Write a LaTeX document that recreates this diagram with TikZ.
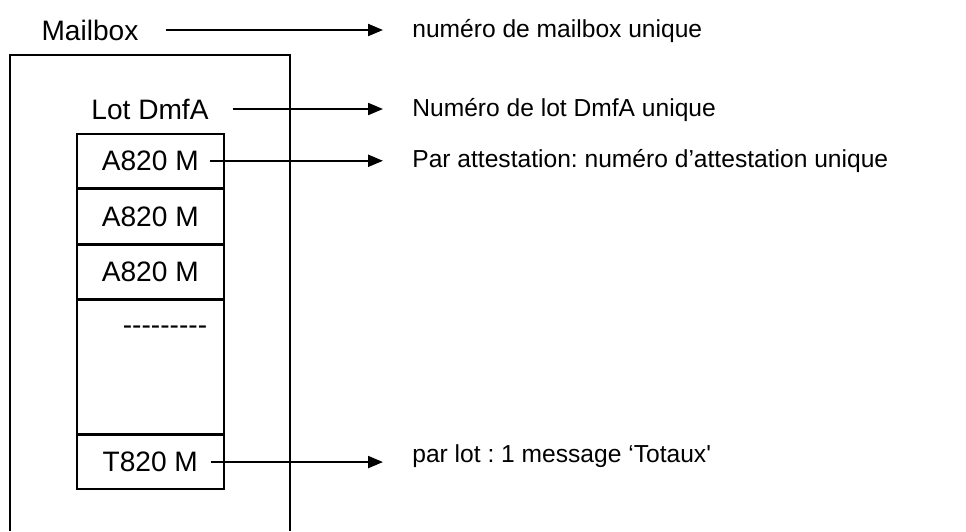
\documentclass[tikz,border=0pt]{standalone}
\usepackage{fontspec}
\setmainfont{Liberation Sans}
\usetikzlibrary{positioning,arrows.meta}

\begin{document}
\frenchspacing
\begin{tikzpicture}[
			x=0.02cm, y=-0.02cm,
			nodefont/.style={font=\fontsize{16}{16}\selectfont},
			rowbox/.style={draw, line width=0.9pt, minimum width=2.94cm, minimum height=1.08cm, inner sep=0pt, nodefont},
			pointer/.style={line width=1.2pt, -{Triangle[length=0.3cm, width=0.24cm]}},
			desc/.style={font=\fontsize{14}{14}\selectfont, anchor=base west, inner sep=0pt}
		]
		\useasboundingbox (0, 0) rectangle (966, 531);

		% grand cadre de la mailbox, ouvert en bas
		\draw[line width=1.1pt] (10, 531) -- (10, 55) -- (290, 55) -- (290, 531);

		% titres
		\node[nodefont] (mailbox) at (90, 30) {Mailbox};
		\node[nodefont] (lot) at (150, 109) {Lot DmfA};

		% pile des messages
		\node[rowbox, anchor=north west] (rowa) at (76, 133) {A820 M};
		\node[rowbox, below=0pt of rowa] (rowb) {A820 M};
		\node[rowbox, below=0pt of rowb] (rowc) {A820 M};
		\node[rowbox, below=0pt of rowc, minimum height=2.66cm] (rowgap) {};
		\node[rowbox, below=0pt of rowgap] (rowt) {T820 M};
		\node[nodefont] (dots) at (165, 330) {-{}-{}-{}-{}-{}-{}-{}-{}-};

		% descriptions (ligne de base)
		\node[desc] (dmailbox) at (412, 37) {numéro de mailbox unique};
		\node[desc] (dlot) at (412, 116) {Numéro de lot DmfA unique};
		\node[desc] (datt) at (412, 167) {Par attestation: numéro d’attestation unique};
		\node[desc] (dtot) at (412, 462) {par lot : 1 message ‘Totaux\textquotesingle};

		% flèches horizontales
		\draw[pointer] ([xshift=0.42cm]mailbox.east) -- ([xshift=-0.58cm]mailbox.east -| dmailbox.west);
		\draw[pointer] ([xshift=0.36cm]lot.east) -- ([xshift=-0.58cm]lot.east -| dlot.west);
		\draw[pointer] ([xshift=-0.3cm]rowa.east) -- ([xshift=-0.58cm]rowa.east -| datt.west);
		\draw[pointer] ([xshift=-0.28cm]rowt.east) -- ([xshift=-0.58cm]rowt.east -| dtot.west);
	\end{tikzpicture}
\end{document}
